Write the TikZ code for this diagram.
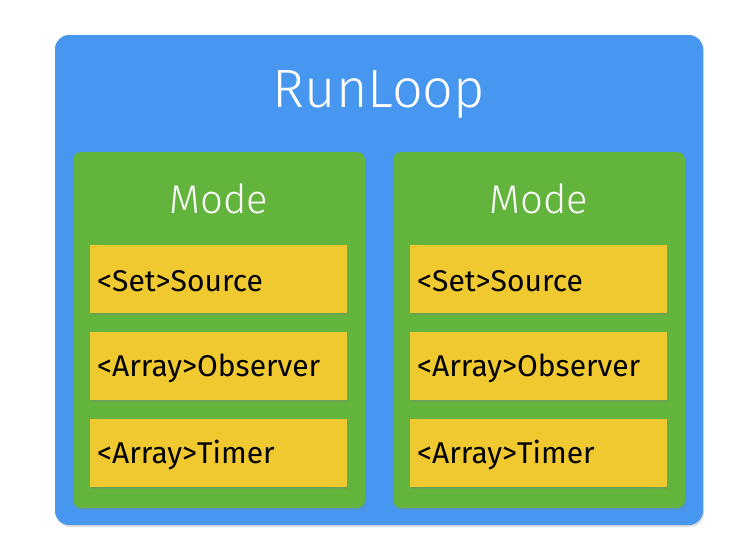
\documentclass[tikz,border=0pt]{standalone}
\usepackage{fontspec}
\setmainfont{Fira Sans Light}
\newfontfamily\yfont{Fira Sans}
\usetikzlibrary{shadows}
\definecolor{cblue}{HTML}{4797F0}
\definecolor{cgreen}{HTML}{62B43C}
\definecolor{cyellow}{HTML}{F0C930}
\begin{document}
\begin{tikzpicture}[x=1pt,y=-1pt,
  outer/.style={fill=cblue,rounded corners=14pt,drop shadow={opacity=0.25,shadow xshift=1pt,shadow yshift=-2pt}},
  mode/.style={fill=cgreen,rounded corners=8pt,drop shadow={opacity=0.3,shadow xshift=1pt,shadow yshift=-2pt}},
  item/.style={fill=cyellow,drop shadow={opacity=0.35,shadow xshift=1pt,shadow yshift=-2pt}},
  itext/.style={anchor=west,inner sep=0pt,font=\yfont\fontsize{30}{34}\selectfont,text=black},
  title/.style={text=white}]
\useasboundingbox (0,0) rectangle (754,558);
\path[outer] (55,35) rectangle (703,525);
\node[title,font=\fontsize{54}{60}\selectfont] (rl) at (379,95) {RunLoop};
\foreach \ox/\n in {0/l,320/r}{
  \path[mode] (73+\ox,152) rectangle (365+\ox,508);
  \node[title,font=\fontsize{40}{44}\selectfont] (mode\n) at (219+\ox,199) {Mode};
  \path[item] (90+\ox,245) rectangle (347+\ox,313);
  \path[item] (90+\ox,332) rectangle (347+\ox,400);
  \path[item] (90+\ox,419) rectangle (347+\ox,487);
  \node[itext] (s\n) at (97+\ox,281) {<Set>Source};
  \node[itext] (o\n) at (97+\ox,368) {<Array>Observer};
  \node[itext] (t\n) at (97+\ox,455) {<Array>Timer};
}
\end{tikzpicture}
\end{document}
